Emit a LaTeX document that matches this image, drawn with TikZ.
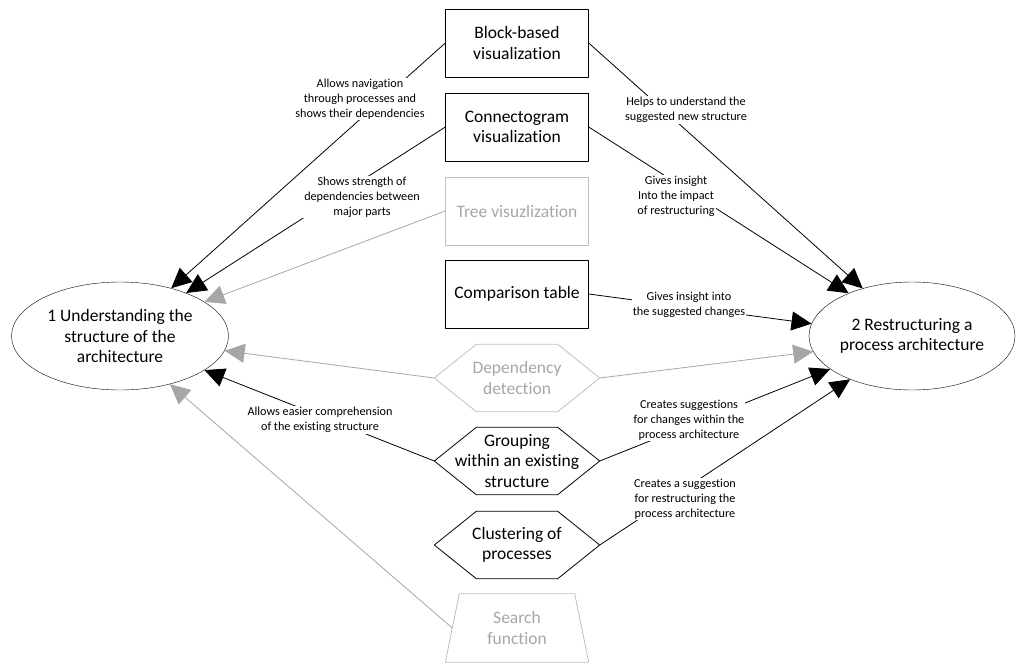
\documentclass[tikz,border=0pt]{standalone}
\usepackage{fontspec}
\setmainfont{Carlito}[Ligatures=NoCommon]
\usetikzlibrary{arrows.meta,shapes.geometric}
\definecolor{lightgrey}{HTML}{A6A6A6}
\definecolor{edgegrey}{HTML}{BFBFBF}

\begin{document}
\begin{tikzpicture}[x=1pt, y=-1pt, line join=round,
    >={Triangle[length=20pt,width=19pt]},
    txt/.style={font=\fontsize{17.5}{20.5}\selectfont, align=center, inner sep=0pt},
    goal/.style={txt, draw, ellipse, minimum height=108pt},
    tool/.style={txt, draw, minimum width=143pt, minimum height=68pt},
    hexa/.style={txt, minimum width=165pt, minimum height=67pt},
    lbl/.style={font=\fontsize{12.2}{15}\selectfont, align=center, fill=white, inner sep=1pt},
    off/.style={draw=edgegrey, text=lightgrey},
    link/.style={->, line width=.8pt},
    faint/.style={->, line width=.8pt, draw=lightgrey}]
    \useasboundingbox (0,0) rectangle (1016,664);
    % the two goals
    \node[goal, minimum width=217pt] (u) at (120,336) {1 Understanding the\\structure of the\\architecture};
    \node[goal, minimum width=206pt] (r) at (912,336) {2 Restructuring a\\process architecture};
    % the tools
    \node[tool] (blk) at (517,43) {Block-based\\visualization};
    \node[tool] (cgm) at (517,127) {Connectogram\\visualization};
    \node[tool, off] (tree) at (517,211) {Tree visuzlization};
    \node[tool] (cmp) at (517,294) {Comparison table};
    \node[hexa, text=lightgrey] (dep) at (517,378) {Dependency\\detection};
    \node[hexa] (grp) at (517,461) {Grouping\\within an existing\\structure};
    \node[hexa] (cls) at (517,545) {Clustering of\\processes};
    \node[tool, draw=none, text=lightgrey] (srch) at (517,628) {Search\\function};
    \foreach \h/\c in {dep/edgegrey, grp/black, cls/black}
        \draw[\c, line width=.8pt] (\h.west) -- ([xshift=42pt]\h.north west) -- ([xshift=-42pt]\h.north east)
            -- (\h.east) -- ([xshift=-42pt]\h.south east) -- ([xshift=42pt]\h.south west) -- cycle;
    \draw[edgegrey, line width=.8pt] (srch.south west) -- ([xshift=14pt]srch.north west)
        -- ([xshift=-14pt]srch.north east) -- (srch.south east) -- cycle;
    % connectors
    \draw[link] (blk.west) -- (u.43);
    \draw[link] (blk.east) -- (r.136);
    \draw[link] (cgm.west) -- (u.33);
    \draw[link] (cgm.east) -- (r.146);
    \draw[faint] (tree.west) -- (u.22);
    \draw[link] (cmp.east) -- (r.173);
    \draw[faint] (dep.west) -- (u.-8);
    \draw[faint] (dep.east) -- (r.-171);
    \draw[link] (grp.west) -- (u.-22);
    \draw[link] (grp.east) -- (r.-158);
    \draw[link] (cls.east) -- (r.-145);
    \draw[faint] ([xshift=7pt]srch.west) -- (u.-44);
    % labels on the connectors
    \node[lbl] (nav) at (360,99) {Allows navigation\\through processes and\\shows their dependencies};
    \node[lbl] (str) at (362,197) {Shows strength of\\dependencies between\\major parts};
    \node[lbl] (und) at (686,110) {Helps to understand the\\suggested new structure};
    \node[lbl] (imp) at (676,196) {Gives insight\\Into the impact\\of restructuring};
    \node[lbl] (chg) at (689,305) {Gives insight into\\the suggested changes};
    \node[lbl] (cmpr) at (320,420) {Allows easier comprehension\\of the existing structure};
    \node[lbl] (sugg) at (689,420) {Creates suggestions\\for changes within the\\process architecture};
    \node[lbl] (rest) at (685,499) {Creates a suggestion\\for restructuring the\\process architecture};
\end{tikzpicture}
\end{document}
